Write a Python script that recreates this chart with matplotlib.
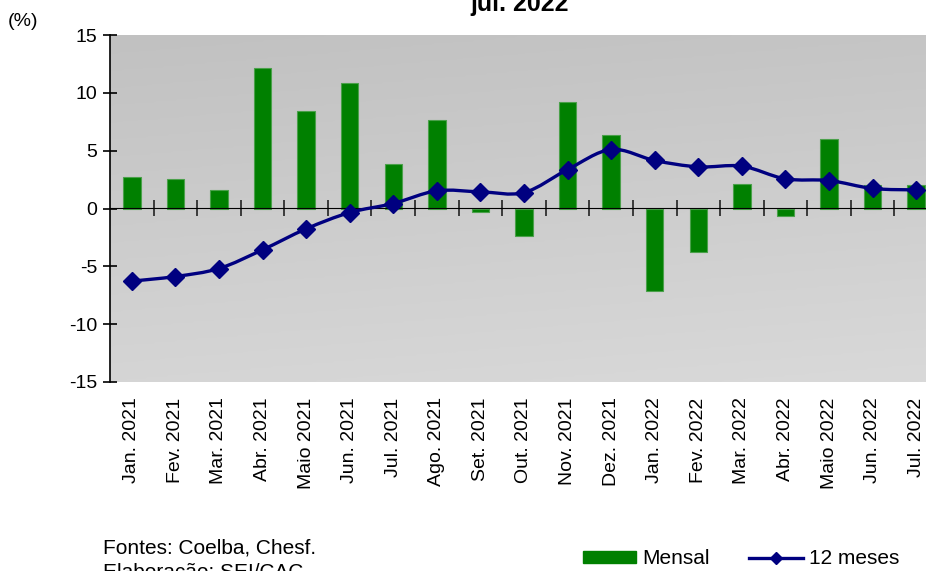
import numpy as np
import matplotlib
matplotlib.use("Agg")
import matplotlib.pyplot as plt
from matplotlib.patches import Patch, PathPatch
from matplotlib.path import Path
from matplotlib.lines import Line2D

plt.rcParams['font.family'] = ['Liberation Sans', 'DejaVu Sans']

categories = ["Jan. 2021", "Fev. 2021", "Mar. 2021", "Abr. 2021", "Maio 2021", "Jun. 2021",
              "Jul. 2021", "Ago. 2021", "Set. 2021", "Out. 2021", "Nov. 2021", "Dez. 2021",
              "Jan. 2022", "Fev. 2022", "Mar. 2022", "Abr. 2022", "Maio 2022", "Jun. 2022",
              "Jul. 2022"]
mensal = [2.71, 2.56, 1.61, 12.13, 8.41, 10.86, 3.83, 7.67, -0.32, -2.36, 9.22, 6.34,
          -7.09, -3.78, 2.13, -0.61, 5.97, 2.02, 2.07]
doze_meses = [-6.28, -5.88, -5.19, -3.57, -1.76, -0.35, 0.43, 1.53, 1.44, 1.38, 3.37, 5.10,
              4.15, 3.60, 3.66, 2.56, 2.42, 1.73, 1.61]
yticks = [-15, -10, -5, 0, 5, 10, 15]

W, H = 926, 571
fig = plt.figure(figsize=(W / 100, H / 100), dpi=100)
left, right, top, bottom = 110, 938, 35, 382
ax = fig.add_axes([left / W, 1 - bottom / H, (right - left) / W, (bottom - top) / H])

n = len(categories)
x = np.arange(n)
ax.set_xlim(-0.5, n - 0.5)
ax.set_ylim(-15, 15)

# gradient background
gy, gx = np.mgrid[0:1:200j, 0:1:200j]
grad = 0.6 * gy + 0.12 * gx
ax.imshow(grad, extent=(-0.5, n - 0.5, -15, 15), aspect='auto', origin='upper',
          cmap=matplotlib.colors.LinearSegmentedColormap.from_list('g', ['#c1c1c1', '#d9d9d9']),
          vmin=0, vmax=0.72, zorder=0)

ax.bar(x, mensal, width=0.4, color='#008000', edgecolor='#4aa04a', linewidth=0.8, zorder=2)

# smoothed line (Bezier through the data points, like a spreadsheet "smoothed line")
y = np.array(doze_meses, dtype=float)
verts = [(x[0], y[0])]
codes = [Path.MOVETO]
for i in range(n - 1):
    p0 = np.array([x[max(i - 1, 0)], y[max(i - 1, 0)]])
    p1 = np.array([x[i], y[i]])
    p2 = np.array([x[i + 1], y[i + 1]])
    p3 = np.array([x[min(i + 2, n - 1)], y[min(i + 2, n - 1)]])
    c1 = p1 + (p2 - p0) / 6.0
    c2 = p2 - (p3 - p1) / 6.0
    verts += [tuple(c1), tuple(c2), tuple(p2)]
    codes += [Path.CURVE4, Path.CURVE4, Path.CURVE4]
ax.add_patch(PathPatch(Path(verts, codes), facecolor='none', edgecolor='#000080', lw=2.4, zorder=4))
ax.plot(x, doze_meses, linestyle='none', marker='D', markersize=9,
        markerfacecolor='#000080', markeredgecolor='#000080', zorder=5)

for s in ['top', 'right', 'bottom']:
    ax.spines[s].set_visible(False)
ax.spines['left'].set_color('black')
ax.spines['left'].set_linewidth(1.2)
ax.set_yticks(yticks)
ax.set_yticklabels([str(v) for v in yticks])
ax.tick_params(axis='y', direction='inout', length=10, width=1.2, labelsize=14, pad=4)

ax.set_xticks(x)
ax.set_xticklabels(categories, rotation=90, fontsize=14)
ax.tick_params(axis='x', length=0, pad=11)

# zero line with crossing ticks
sec = ax.secondary_xaxis(0.5)
sec.set_xticks(np.arange(n - 1) + 0.5)
sec.set_xticklabels([])
sec.spines['bottom'].set_color('#555555')
sec.spines['bottom'].set_linewidth(1.8)
sec.tick_params(direction='inout', length=12, width=1.2, color='#222222')
sec.set_zorder(3)

fig.text(520 / W, 1 - 4 / H, "jul. 2022", ha='center', va='center', fontsize=18, fontweight='bold')
fig.text(8 / W, 1 - 22 / H, "(%)", ha='left', va='center', fontsize=14)
fig.text(103 / W, 1 - 548 / H, "Fontes: Coelba, Chesf.", ha='left', va='center', fontsize=15)
fig.text(103 / W, 1 - 572 / H, "Elaboração: SEI/CAC", ha='left', va='center', fontsize=15)

handles = [Patch(facecolor='#008000', edgecolor='#008000'),
           Line2D([0], [0], color='#000080', lw=2.4, marker='D', markersize=6)]
fig.legend(handles, ["Mensal", "12 meses"], ncol=2, loc='center left',
           bbox_to_anchor=(583 / W, 1 - 559 / H), frameon=False, fontsize=15,
           handlelength=2.55, handleheight=0.55, handletextpad=0.3, columnspacing=1.9,
           borderpad=0, borderaxespad=0)

fig.savefig("out.png", dpi=100)
